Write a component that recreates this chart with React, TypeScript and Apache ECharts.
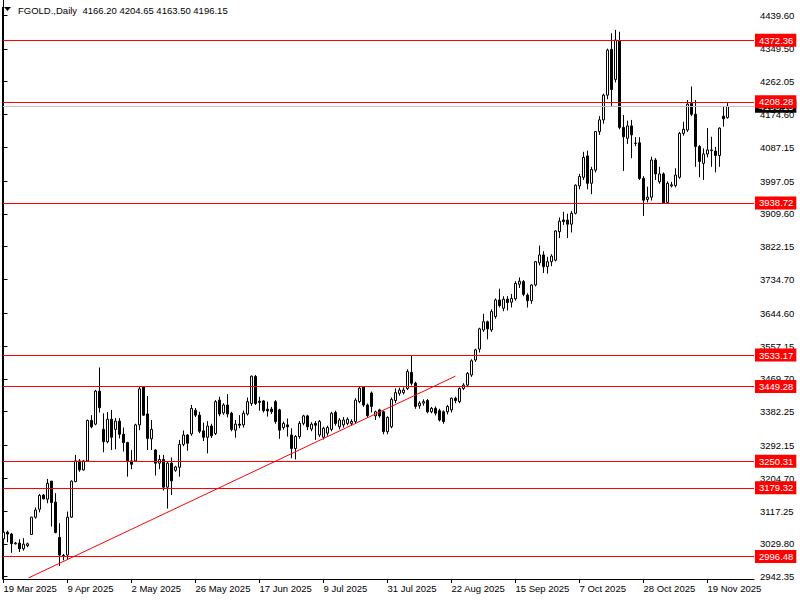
import { useEffect, useRef } from "react";
import * as echarts from "echarts";

// [open, high, low, close] per daily bar
const ohlc: number[][] = [
  [3043, 3065, 3034, 3061], [3061, 3065, 3034, 3056], [3056, 3059, 3006, 3030], [3030, 3035, 3028, 3032],
  [3032, 3042, 3008, 3017], [3017, 3045, 3012, 3029], [3025, 3033, 3021, 3030], [3055, 3102, 3054, 3101],
  [3101, 3127, 3097, 3120], [3122, 3163, 3114, 3159], [3160, 3163, 3148, 3150], [3149, 3203, 3138, 3191],
  [3197, 3198, 3076, 3140], [3141, 3165, 3058, 3060], [3047, 3085, 2971, 3000], [2999, 3003, 2986, 2997],
  [3000, 3116, 2987, 3101], [3101, 3199, 3099, 3197], [3196, 3267, 3194, 3251], [3251, 3256, 3222, 3227],
  [3227, 3253, 3225, 3251], [3251, 3361, 3249, 3359], [3359, 3373, 3338, 3342], [3349, 3440, 3346, 3437],
  [3437, 3500, 3380, 3393], [3335, 3378, 3274, 3302], [3302, 3381, 3298, 3362], [3362, 3387, 3280, 3314],
  [3335, 3365, 3282, 3357], [3357, 3365, 3311, 3322], [3322, 3340, 3276, 3300], [3300, 3302, 3209, 3251],
  [3251, 3280, 3229, 3242], [3251, 3350, 3248, 3347], [3347, 3449, 3333, 3443], [3449, 3450, 3371, 3373],
  [3376, 3424, 3280, 3311], [3310, 3360, 3280, 3335], [3280, 3282, 3212, 3245], [3245, 3267, 3229, 3255],
  [3255, 3267, 3172, 3181], [3181, 3250, 3124, 3245], [3245, 3260, 3160, 3198], [3226, 3238, 3222, 3235],
  [3234, 3307, 3209, 3295], [3295, 3332, 3290, 3320], [3320, 3322, 3278, 3298], [3323, 3400, 3318, 3391],
  [3386, 3392, 3368, 3373], [3373, 3382, 3325, 3330], [3331, 3353, 3304, 3314], [3314, 3357, 3271, 3344],
  [3344, 3350, 3312, 3318], [3324, 3413, 3320, 3409], [3413, 3422, 3370, 3376], [3379, 3405, 3374, 3400],
  [3400, 3429, 3367, 3376], [3378, 3382, 3330, 3335], [3333, 3360, 3313, 3349], [3349, 3373, 3338, 3346],
  [3347, 3385, 3340, 3378], [3376, 3420, 3372, 3409], [3404, 3478, 3398, 3477], [3476, 3480, 3400, 3404],
  [3410, 3422, 3385, 3407], [3411, 3413, 3380, 3385], [3389, 3409, 3369, 3384], [3389, 3395, 3376, 3382],
  [3409, 3413, 3350, 3356], [3387, 3390, 3310, 3333], [3340, 3356, 3334, 3351], [3347, 3364, 3316, 3342],
  [3320, 3338, 3258, 3284], [3284, 3320, 3255, 3316], [3316, 3357, 3310, 3351], [3351, 3374, 3346, 3371],
  [3371, 3374, 3333, 3342], [3336, 3354, 3330, 3349], [3351, 3357, 3307, 3346], [3320, 3360, 3315, 3356],
  [3314, 3342, 3308, 3338], [3325, 3345, 3318, 3340], [3335, 3382, 3330, 3378], [3380, 3385, 3345, 3351],
  [3342, 3365, 3335, 3360], [3347, 3368, 3340, 3360], [3351, 3367, 3346, 3362], [3351, 3362, 3345, 3356],
  [3356, 3418, 3350, 3413], [3409, 3448, 3405, 3445], [3449, 3450, 3395, 3400], [3400, 3404, 3366, 3372],
  [3432, 3436, 3380, 3396], [3371, 3385, 3360, 3382], [3387, 3390, 3366, 3371], [3382, 3385, 3322, 3329],
  [3329, 3370, 3322, 3367], [3342, 3420, 3338, 3415], [3412, 3444, 3405, 3433], [3431, 3446, 3425, 3440],
  [3433, 3447, 3428, 3440], [3444, 3495, 3440, 3489], [3487, 3533, 3452, 3458], [3458, 3462, 3390, 3396],
  [3398, 3410, 3390, 3405], [3405, 3415, 3398, 3409], [3412, 3416, 3378, 3382], [3382, 3395, 3378, 3391],
  [3391, 3396, 3372, 3378], [3385, 3390, 3356, 3360], [3382, 3386, 3350, 3356], [3382, 3400, 3375, 3396],
  [3387, 3420, 3380, 3418], [3418, 3422, 3405, 3412], [3409, 3447, 3405, 3444], [3444, 3458, 3440, 3453],
  [3453, 3488, 3450, 3484], [3480, 3522, 3475, 3518], [3520, 3550, 3515, 3547], [3549, 3606, 3540, 3603],
  [3600, 3643, 3595, 3622], [3622, 3625, 3575, 3603], [3600, 3655, 3595, 3649], [3636, 3684, 3630, 3680],
  [3680, 3710, 3660, 3665], [3658, 3690, 3650, 3682], [3682, 3690, 3652, 3673], [3674, 3696, 3660, 3684],
  [3683, 3730, 3678, 3724], [3722, 3740, 3712, 3730], [3729, 3733, 3690, 3695], [3693, 3698, 3660, 3678],
  [3678, 3722, 3670, 3720], [3720, 3784, 3716, 3782], [3779, 3825, 3772, 3800], [3800, 3810, 3752, 3769],
  [3769, 3795, 3750, 3782], [3782, 3802, 3770, 3797], [3786, 3866, 3783, 3864], [3862, 3900, 3845, 3890],
  [3893, 3915, 3880, 3889], [3893, 3910, 3845, 3882], [3882, 3917, 3860, 3911], [3911, 3988, 3908, 3986],
  [3984, 4016, 3975, 4009], [4007, 4075, 4000, 4060], [4064, 4078, 3975, 3991], [3991, 4035, 3962, 4028],
  [4026, 4130, 4020, 4129], [4129, 4170, 4120, 4160], [4160, 4230, 4150, 4226], [4226, 4350, 4215, 4346],
  [4348, 4391, 4197, 4241], [4268, 4400, 4260, 4373], [4371, 4395, 4135, 4140], [4140, 4173, 4024, 4115],
  [4111, 4158, 4096, 4144], [4144, 4160, 4058, 4120], [4098, 4114, 4090, 4097], [4099, 4114, 4000, 4004],
  [4004, 4010, 3904, 3946], [3948, 3982, 3940, 3954], [3954, 4062, 3945, 4053], [4053, 4058, 4000, 4016],
  [3995, 4035, 3990, 4016], [4016, 4020, 3937, 3939], [3940, 3996, 3937, 3991], [3984, 3995, 3980, 3987],
  [3985, 4031, 3980, 4013], [4007, 4128, 4003, 4124], [4124, 4155, 4118, 4135], [4133, 4213, 4128, 4202],
  [4204, 4249, 4170, 4175], [4175, 4213, 4035, 4089], [4089, 4093, 4007, 4049], [4044, 4084, 4000, 4069],
  [4069, 4138, 4060, 4080], [4078, 4115, 4035, 4080], [4077, 4088, 4020, 4065], [4065, 4140, 4035, 4138],
  [4170, 4195, 4142, 4163], [4166.2, 4204.65, 4163.5, 4196.15],
];

const dateLabels = [
  "19 Mar 2025", "9 Apr 2025", "2 May 2025", "26 May 2025", "17 Jun 2025", "9 Jul 2025",
  "31 Jul 2025", "22 Aug 2025", "15 Sep 2025", "7 Oct 2025", "28 Oct 2025", "19 Nov 2025",
];
const dateTickIndex = [0, 16, 32, 48, 64, 80, 96, 112, 128, 144, 160, 176];

const priceTicks = [
  4439.6, 4349.5, 4262.05, 4174.6, 4087.15, 3997.05, 3909.6, 3822.15, 3734.7,
  3644.6, 3557.15, 3469.7, 3382.25, 3292.15, 3204.7, 3117.25, 3029.8, 2942.35,
];

const levels = [4372.36, 4208.28, 3938.72, 3533.17, 3449.28, 3250.31, 3179.32, 2996.48];
const bidPrice = 4196.15;
const trendStart = [6.25, 2939];
const trendEnd = [113, 3477];

const symbolName = "FGOLD.,Daily";
const FONT = "Liberation Sans, Arial, sans-serif";
const FS = 9.5;

export default function App() {
  const ref = useRef<HTMLDivElement>(null);
  useEffect(() => {
    if (!ref.current) return;
    const chart = echarts.init(ref.current, undefined, { renderer: "svg" });
    const last = ohlc[ohlc.length - 1];
    const header = `${symbolName}  ${last.map((v) => v.toFixed(2)).join(" ")}`;
    const plotW = 751;
    const xMin = -0.125;
    const labelStyle = {
      show: true,
      position: "end",
      distance: 1,
      color: "#fff",
      backgroundColor: "#FF0000",
      fontSize: FS,
      fontFamily: FONT,
      padding: [2, 3, 1, 4],
      formatter: (p: any) => Number(p.value).toFixed(2),
    };
    const option: any = {
      animation: false,
      backgroundColor: "#ffffff",
      grid: { left: 3, right: 46, top: 0, bottom: 21, show: false },
      xAxis: {
        type: "value",
        min: xMin,
        max: xMin + plotW / 4,
        axisLine: { show: true, lineStyle: { color: "#000", width: 1 } },
        axisTick: { show: true, customValues: dateTickIndex, length: 4, lineStyle: { color: "#000" } },
        axisLabel: {
          customValues: dateTickIndex,
          formatter: (v: number) => {
            const k = dateTickIndex.indexOf(Math.round(v));
            return k >= 0 ? dateLabels[k] : "";
          },
          align: "left",
          margin: 4,
          fontSize: FS,
          fontFamily: FONT,
          color: "#000",
        },
        splitLine: { show: false },
      },
      yAxis: {
        type: "value",
        position: "right",
        min: 2936.2,
        max: 4479.6,
        axisLine: { show: true, lineStyle: { color: "#000", width: 1 } },
        axisTick: { show: true, customValues: priceTicks, length: 4, lineStyle: { color: "#000" } },
        axisLabel: {
          customValues: priceTicks,
          formatter: (v: number) => v.toFixed(2),
          margin: 6,
          fontSize: FS,
          fontFamily: FONT,
          color: "#000",
        },
        splitLine: { show: false },
      },
      series: [
        {
          type: "candlestick",
          data: ohlc.map((d, i) => [i, d[0], d[3], d[2], d[1]]),
          encode: { x: 0, y: [1, 2, 3, 4] },
          barWidth: 2,
          clip: true,
          itemStyle: {
            color: "#ffffff",
            color0: "#000000",
            borderColor: "#000000",
            borderColor0: "#000000",
            borderWidth: 1,
          },
          markLine: {
            silent: true,
            symbol: ["none", "none"],
            animation: false,
            label: labelStyle,
            data: [
              {
                yAxis: bidPrice,
                lineStyle: { color: "#C0C0C0", width: 1, type: "solid" },
                label: { ...labelStyle, backgroundColor: "#000000" },
              },
              ...levels.map((v) => ({
                yAxis: v,
                lineStyle: { color: "#FF0000", width: 1, type: "solid" },
              })),
              [
                { coord: trendStart, lineStyle: { color: "#FF0000", width: 1, type: "solid" }, label: { show: false } },
                { coord: trendEnd },
              ],
            ],
          },
        },
      ],
      graphic: [
        { type: "line", shape: { x1: 2.5, y1: 7, x2: 2.5, y2: 579 }, style: { stroke: "#000", lineWidth: 1 } },
        { type: "polygon", shape: { points: [[4, 7], [11, 7], [7.5, 11]] }, style: { fill: "#000" } },
        {
          type: "text",
          x: 18,
          y: 10,
          style: { text: header, font: `${FS}px ${FONT}`, fill: "#000", verticalAlign: "middle" },
        },
      ],
    };
    chart.setOption(option);
    return () => chart.dispose();
  }, []);
  return <div ref={ref} style={{ width: 800, height: 600, position: "absolute", left: 0, top: 0 }} />;
}
